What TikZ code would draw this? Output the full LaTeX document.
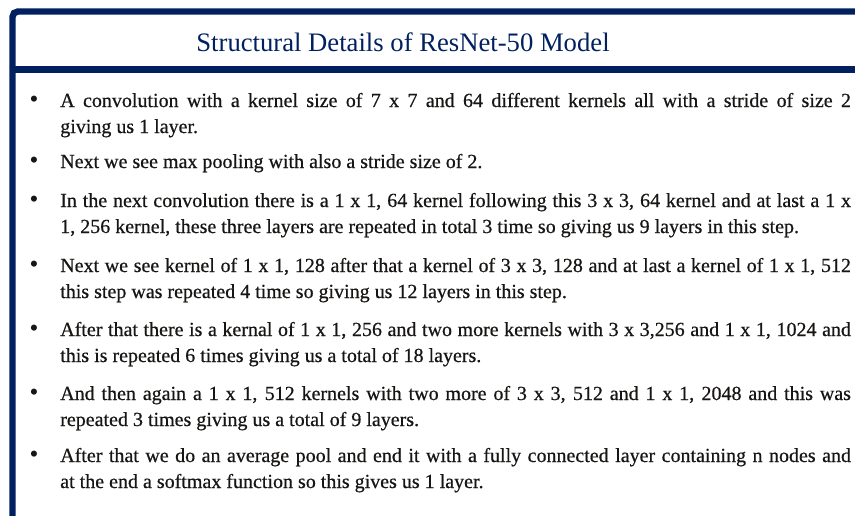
\documentclass[tikz,border=0pt]{standalone}
\usepackage{fontspec}
\setmainfont{Liberation Serif}
\newfontfamily\bodyfont[FakeBold=0.6]{Liberation Serif}
\usetikzlibrary{positioning}
\definecolor{BoxNavy}{RGB}{0,32,96}
\definecolor{TextInk}{RGB}{24,22,20}

\tikzset{
  frame/.style={BoxNavy,line width=4.8pt},
  heading/.style={anchor=base,inner sep=0pt,BoxNavy,font=\fontsize{20}{24}\selectfont},
  item/.style={anchor=base west,inner sep=0pt,text width=593pt,align=justify,TextInk,font=\bodyfont\fontsize{15}{19.5}\selectfont},
  dot/.style={anchor=base,inner sep=0pt,TextInk,font=\fontsize{19}{19}\selectfont},
}

\begin{document}
\begin{tikzpicture}[x=.75pt,y=-.75pt]
\useasboundingbox (0,0) rectangle (855,515);
\clip (0,0) rectangle (855,515);
% panel border and title rule
\draw[frame,rounded corners=4pt] (12.5,540) |- (880,11.5);
\draw[frame] (12.5,69.5) -- (880,69.5);
\node[heading] (title) at (403,51) {Structural Details of ResNet-50 Model};
% bullet points
\foreach \n/\y/\txt in {
  1/107/{A convolution with a kernel size of 7 x 7 and 64 different kernels all with a stride of size 2\linebreak giving us 1 layer.},
  2/168/{Next we see max pooling with also a stride size of 2.},
  3/207/{In the next convolution there is a 1 x 1, 64 kernel following this 3 x 3, 64 kernel and at last a 1 x\linebreak 1, 256 kernel, these three layers are repeated in total 3 time so giving us 9 layers in this step.},
  4/272/{Next we see kernel of 1 x 1, 128 after that a kernel of 3 x 3, 128 and at last a kernel of 1 x 1, 512\linebreak this step was repeated 4 time so giving us 12 layers in this step.},
  5/336/{After that there is a kernal of 1 x 1, 256 and two more kernels with 3 x 3,256 and 1 x 1, 1024 and\linebreak this is repeated 6 times giving us a total of 18 layers.},
  6/400/{And then again a 1 x 1, 512 kernels with two more of 3 x 3, 512 and 1 x 1, 2048 and this was\linebreak repeated 3 times giving us a total of 9 layers.},
  7/462/{After that we do an average pool and end it with a fully connected layer containing n nodes and\linebreak at the end a softmax function so this gives us 1 layer.}}{
  \node[item] (i\n) at (60,\y) {\txt};
  \node[dot] (b\n) at ([xshift=-19.5pt]i\n.base west) {\textbullet};
}
\end{tikzpicture}
\end{document}
